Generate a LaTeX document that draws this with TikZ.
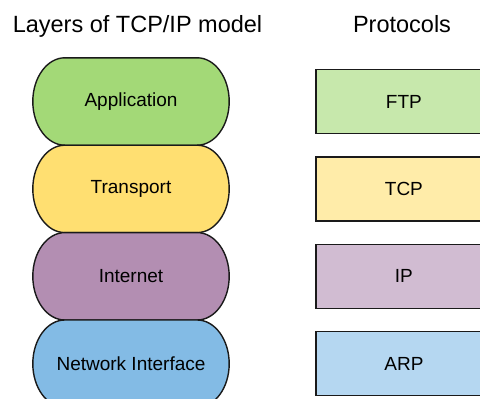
\documentclass[tikz,border=0pt]{standalone}
\usepackage{fontspec}
\setmainfont{Liberation Sans}
\usetikzlibrary{positioning,backgrounds}

\definecolor{appfill}{HTML}{A3D977}
\definecolor{trafill}{HTML}{FFDF71}
\definecolor{netfill}{HTML}{B38EB2}
\definecolor{nicfill}{HTML}{83BBE5}
\definecolor{ftpfill}{HTML}{C7E8AC}
\definecolor{tcpfill}{HTML}{FFECA9}
\definecolor{ipfill}{HTML}{D1BCD2}
\definecolor{arpfill}{HTML}{B5D7F1}
\definecolor{edge}{HTML}{1A1A1A}

\tikzset{
  layer/.style={minimum width=196pt, minimum height=87pt, inner sep=0pt,
    font=\fontsize{19}{22}\selectfont},
  outline/.style={draw=edge, line width=1.4pt},
  proto/.style={draw=edge, line width=1.4pt,
    minimum width=176pt, minimum height=64pt, inner sep=0pt,
    font=\fontsize{19}{22}\selectfont},
  heading/.style={anchor=base, font=\fontsize{23.5}{27}\selectfont}
}

\begin{document}
\begin{tikzpicture}[x=1pt,y=-1pt]
    \useasboundingbox (0,0) rectangle (480,399);
    \clip (0,0) rectangle (480,399);

    % titles
    \node[heading] (layhead) at (137.5,32) {Layers of TCP/IP model};
    \node[heading] (prohead) at (402,32) {Protocols};

    % stack of layers
    \node[layer] (app) at (131,101.5) {Application};
    \node[layer, below=0pt of app] (tra) {Transport};
    \node[layer, below=0pt of tra] (inet) {Internet};
    \node[layer, below=0pt of inet] (nic) {Network Interface};

    % oval outlines behind the layer names
    \begin{scope}[on background layer]
        \foreach \n/\c in {app/appfill, tra/trafill, inet/netfill, nic/nicfill} {
            \draw[outline, fill=\c]
                ([xshift=32pt]\n.north west) -- ([xshift=-32pt]\n.north east)
                .. controls +(17.7pt,0) and +(0,24pt) .. (\n.east)
                .. controls +(0,-24pt) and +(17.7pt,0) .. ([xshift=-32pt]\n.south east)
                -- ([xshift=32pt]\n.south west)
                .. controls +(-17.7pt,0) and +(0,-24pt) .. (\n.west)
                .. controls +(0,24pt) and +(-17.7pt,0) .. cycle;
        }
    \end{scope}

    % protocols, one per layer
    \node[proto, fill=ftpfill, right=86pt of app] (ftp) {FTP};
    \node[proto, fill=tcpfill, right=86pt of tra] (tcp) {TCP};
    \node[proto, fill=ipfill, right=86pt of inet] (ip) {IP};
    \node[proto, fill=arpfill, right=86pt of nic] (arp) {ARP};
\end{tikzpicture}
\end{document}
